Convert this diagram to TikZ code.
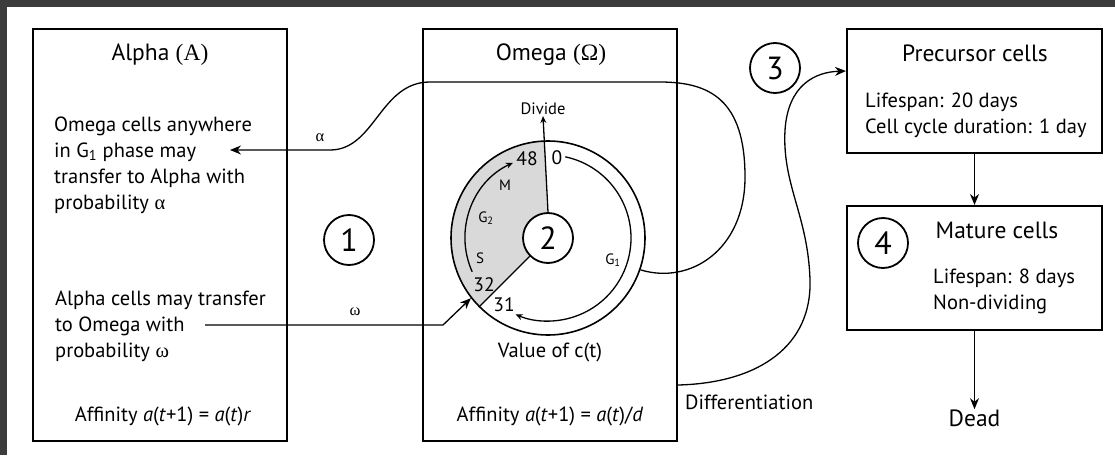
\documentclass[tikz,border=0pt]{standalone}
\usepackage{fontspec}
\setmainfont{PT Sans}
\newfontfamily\gr{Liberation Serif}
\usetikzlibrary{arrows.meta,calc}
\definecolor{framecol}{HTML}{3C3C3C}
\definecolor{cellgray}{HTML}{D9D9D9}
\begin{document}
\begin{tikzpicture}[x=1pt,y=-1pt,
  box/.style={draw, line width=2pt, inner sep=0pt},
  conn/.style={line width=1.3pt},
  arr/.style={-{Stealth[length=11pt,width=9pt]}},
  arrs/.style={-{Stealth[length=7pt,width=6pt]}},
  num/.style={draw, circle, line width=1.8pt, minimum size=50pt, inner sep=0pt, font=\fontsize{32}{32}\selectfont},
  body/.style={font=\fontsize{20.5}{26}\selectfont, align=left, inner sep=0pt},
  title/.style={font=\fontsize{23.5}{26}\selectfont, inner sep=0pt},
  small/.style={font=\fontsize{16.5}{16.5}\selectfont, inner sep=1pt},
  tiny/.style={font=\fontsize{15}{15}\selectfont, inner sep=0pt},
  numlab/.style={font=\fontsize{19.5}{19.5}\selectfont, inner sep=0pt}]
\fill[white] (0,0) rectangle (1115,455);
\fill[framecol] (0,0) rectangle (1115,7);
\fill[framecol] (0,0) rectangle (7,455);
\useasboundingbox (0,0) rectangle (1115,455);

% boxes
\node[box, minimum width=254pt, minimum height=412pt] (alpha) at (160,235) {};
\node[box, minimum width=254pt, minimum height=412pt] (omega) at (550,235) {};
\node[box, minimum width=255pt, minimum height=124pt] (prec) at (974.5,91) {};
\node[box, minimum width=255pt, minimum height=124pt] (mat) at (974.5,268) {};

% Alpha texts
\node[title, anchor=base] (ta) at (160,60) {Alpha {\gr(Α)}};
\node[body, anchor=base west] (a1) at (54,209) {Omega cells anywhere\\in G\textsubscript{1} phase may\\transfer to Alpha with\\probability {\gr α}};
\node[body, anchor=base west] (a2) at (55,357) {Alpha cells may transfer\\to Omega with\\probability {\gr ω}};
\node[body, anchor=base] (affa) at (163,421) {Affinity \textit{a}(\textit{t}+1) = \textit{a}(\textit{t})\textit{r}};

% Omega texts
\node[title, anchor=base] (to) at (551,60) {Omega {\gr(Ω)}};
\node[body, anchor=base] (val) at (550,357) {Value of c(t)};
\node[body, anchor=base] (affo) at (550,421) {Affinity \textit{a}(\textit{t}+1) = \textit{a}(\textit{t})/\textit{d}};

% cycle ring
\coordinate (c) at (548,238);
\fill[cellgray] (c) -- ($(c)+(-92:97)$) arc[start angle=-92, end angle=-225, radius=97] -- cycle;
\node[draw, circle, line width=1.6pt, minimum size=194pt, inner sep=0pt] (ring) at (c) {};
\node[num, fill=white] (n2) at (c) {2};
\node[small, anchor=south] (dv) at (543,116) {Divide};
\draw[conn, arrs] (n2.north) -- (dv.south);
\draw[conn] (n2) -- (ring.225);
\draw[conn, arrs] ($(c)+(-78:83)$) arc[start angle=-78, end angle=113, radius=83];
\draw[conn, arrs] ($(c)+(-204:83)$) arc[start angle=-204, end angle=-115, radius=83];
\node[numlab] (l48) at (527,159) {48};
\node[numlab] (l0) at (557,158) {0};
\node[numlab] (l32) at (484,285) {32};
\node[numlab] (l31) at (504,305) {31};
\node[tiny] (lM) at (505,185) {M};
\node[tiny] (lG2) at (486,218) {G\textsubscript{2}};
\node[tiny] (lS) at (480,258) {S};
\node[tiny] (lG1) at (613,260) {G\textsubscript{1}};

% numbered circles
\node[num] (n1) at (349,240) {1};
\node[num] (n3) at (775,68) {3};
\node[num] (n4) at (883,243) {4};

% transfer alpha
\coordinate (aT) at (230,150);
\node[small] (lal) at (320,138) {\gr α};
\draw[conn, arr] (ring.-19) .. controls (690,285) and (745,250) .. (745,177)
  .. controls (745,100) and (710,82) .. (660,82) -- (430,82)
  .. controls (380,82) and (375,150) .. (330,150) -- (aT);

% transfer omega
\coordinate (wS) at (205,325);
\node[small] (lom) at (355,312) {\gr ω};
\draw[conn, arr] (wS) -- (443,325) -- (ring.218);

% differentiation
\coordinate (dS) at ($(omega.south east)+(0,-57)$);
\coordinate (dE) at ($(prec.north west)+(0,43)$);
\node[body, anchor=base west] (ldiff) at (685,409) {Differentiation};
\draw[conn, arr] (dS) .. controls (760,383) and (812,345) .. (810,280)
  .. controls (808,215) and (782,185) .. (785,130)
  .. controls (788,85) and (815,72) .. (dE);

% right column
\node[title, anchor=base] (tp) at (975,61) {Precursor cells};
\node[body, anchor=base west] (p1) at (865,133) {Lifespan: 20 days\\Cell cycle duration: 1 day};
\node[title, anchor=base] (tm) at (997,238) {Mature cells};
\node[body, anchor=base west] (m1) at (933,309) {Lifespan: 8 days\\Non-dividing};
\node[title, anchor=base] (dead) at (974.5,426) {Dead};
\draw[conn, arr] (prec.south) -- (mat.north);
\draw[conn, arr] (mat.south) -- (dead.north);
\end{tikzpicture}
\end{document}
